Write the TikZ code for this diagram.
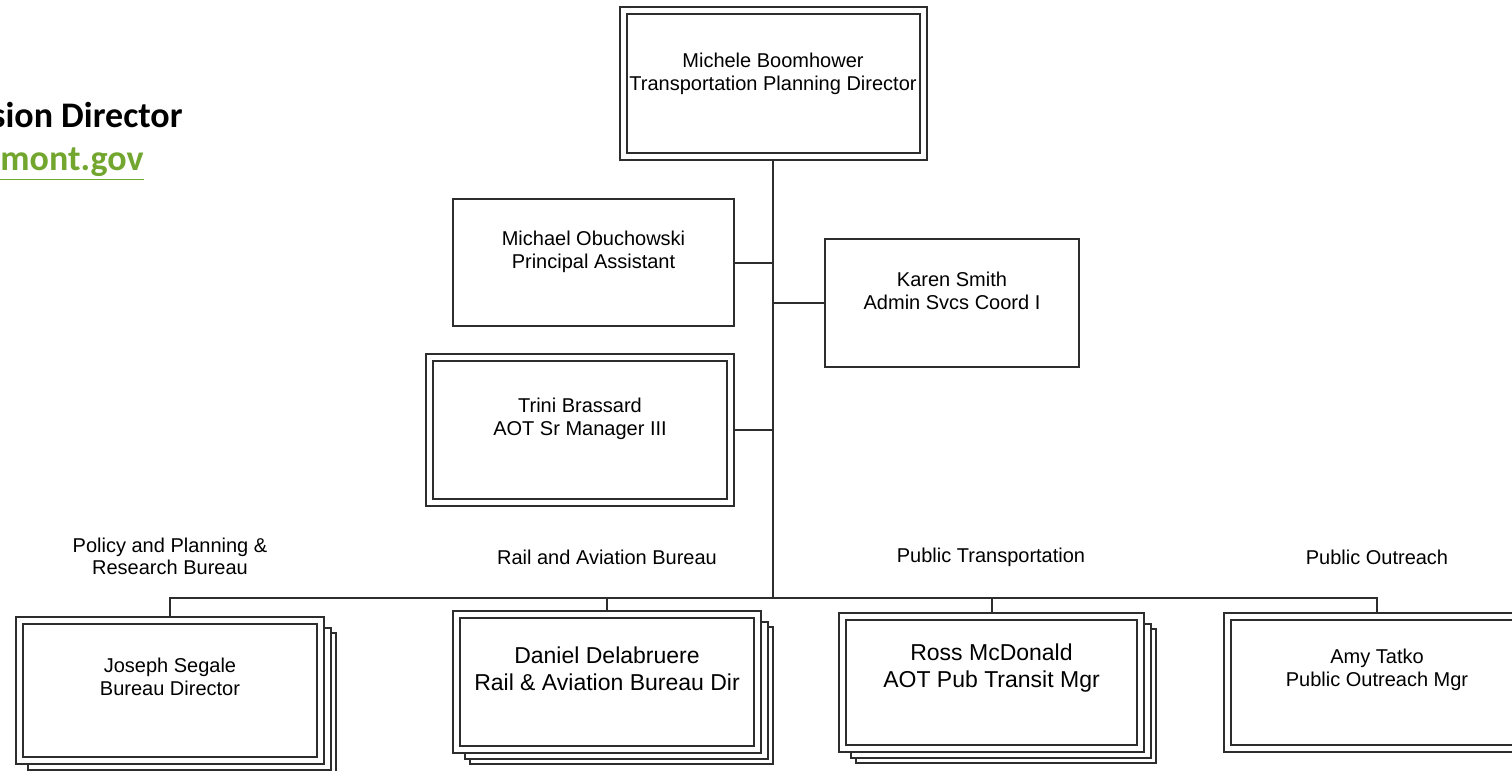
\documentclass[tikz,border=0pt]{standalone}
\usepackage{fontspec}
\setmainfont{Liberation Sans}
\newfontfamily\headfont{Carlito}
\usepackage{tikz}
\usetikzlibrary{backgrounds}
\definecolor{linkgreen}{RGB}{114,166,46}
\definecolor{boxline}{RGB}{45,45,45}

\begin{document}
\begin{tikzpicture}[x=0.5pt, y=-0.5pt,
        singlebox/.style={draw=boxline, line width=1pt, fill=white, inner sep=0pt},
        doublebox/.style={singlebox, double=white, double distance=2.5pt},
        stackbox/.style={draw=boxline, line width=1pt, fill=white},
        orgline/.style={draw=boxline, line width=1pt},
        who/.style={align=center, font=\fontsize{10pt}{11.5pt}\selectfont},
        whobig/.style={align=center, font=\fontsize{11.5pt}{13.5pt}\selectfont},
        bureau/.style={align=center, font=\fontsize{10pt}{11pt}\selectfont}]
    \useasboundingbox (0,0) rectangle (1512,771);

    % Header text (cut at the left edge)
    \node[anchor=base east, inner sep=0pt, font=\headfont\bfseries\fontsize{18pt}{22pt}\selectfont] (title) at (183,127) {sion Director};
    \node[anchor=base west, inner sep=0pt, font=\headfont\bfseries\fontsize{18pt}{22pt}\selectfont, text=linkgreen] (mail) at (0,170) {\underline{mont.gov}};

    % Director and staff
    \node[doublebox, minimum width=150pt, minimum height=73pt] (boomhower) at (773,83.5) {};
    \node[singlebox, minimum width=140.5pt, minimum height=63.5pt] (obuchowski) at (593.5,262.5) {};
    \node[singlebox, minimum width=127pt, minimum height=64pt] (smith) at (952,303) {};
    \node[doublebox, minimum width=150.5pt, minimum height=72.5pt] (brassard) at (580,430) {};

    % Bureaus
    \node[doublebox, minimum width=150.5pt, minimum height=70pt] (segale) at (170,690.5) {};
    \node[doublebox, minimum width=150.5pt, minimum height=67.5pt] (delabruere) at (607,682) {};
    \node[doublebox, minimum width=149pt, minimum height=66pt] (mcdonald) at (991.5,682.5) {};
    \node[doublebox, minimum width=149.5pt, minimum height=66pt] (tatko) at (1377,682.5) {};

    % Names
    \node[who] (boomhowerName) at ([yshift=5pt]boomhower.center) {Michele Boomhower\\Transportation Planning Director};
    \node[who] (obuchowskiName) at ([yshift=5.5pt]obuchowski.center) {Michael Obuchowski\\Principal Assistant};
    \node[who] (smithName) at ([yshift=6pt]smith.center) {Karen Smith\\Admin Svcs Coord I};
    \node[who] (brassardName) at ([yshift=5.75pt]brassard.center) {Trini Brassard\\AOT Sr Manager III};
    \node[who] (segaleName) at ([yshift=6.75pt]segale.center) {Joseph Segale\\Bureau Director};
    \node[whobig] (delabruereName) at ([yshift=6.75pt]delabruere.center) {Daniel Delabruere\\Rail \& Aviation Bureau Dir};
    \node[whobig] (mcdonaldName) at ([yshift=7pt]mcdonald.center) {Ross McDonald\\AOT Pub Transit Mgr};
    \node[who] (tatkoName) at ([yshift=6.25pt]tatko.center) {Amy Tatko\\Public Outreach Mgr};

    % Bureau headings
    \node[bureau] (policy) at (170,556) {Policy and Planning \&\\Research Bureau};
    \node[bureau] (railAir) at (607,557) {Rail and Aviation Bureau};
    \node[bureau] (transit) at (991,557) {Public Transportation};
    \node[bureau] (outreach) at (1377,557) {Public Outreach};

    \begin{scope}[on background layer]
        % stacked copies behind the bureau boxes
        \foreach \n in {segale,delabruere,mcdonald}
            \foreach \d/\e in {14/13,9/8}
                \draw[stackbox] ([shift={(\d,\e)}]\n.north west) rectangle ([shift={(\d,\e)}]\n.south east);
        % Lines
        \coordinate (bus) at (773,598);
        \draw[orgline] (boomhower) -- (bus);
        \draw[orgline] (obuchowski) -- (obuchowski -| bus);
        \draw[orgline] (smith) -- (smith -| bus);
        \draw[orgline] (brassard) -- (brassard -| bus);
        \draw[orgline] (segale) |- (bus) -| (tatko);
        \draw[orgline] (delabruere) -- (delabruere |- bus);
        \draw[orgline] (mcdonald) -- (mcdonald |- bus);
    \end{scope}
\end{tikzpicture}
\end{document}
